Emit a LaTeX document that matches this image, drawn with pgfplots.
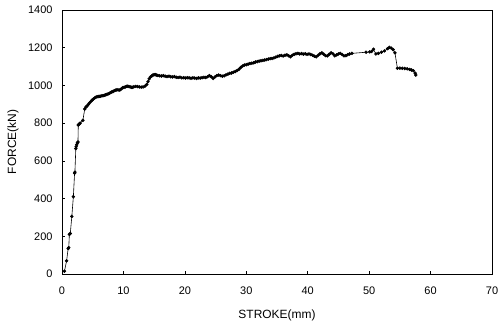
\documentclass[border=0pt]{standalone}
\usepackage{fontspec}
\setmainfont{Liberation Sans}
\usepackage{pgfplots}
\pgfplotsset{compat=1.18}
\begin{document}
\begin{tikzpicture}
\begin{axis}[
  scale only axis,
  width=430bp, height=264bp,
  xmin=0, xmax=70, ymin=0, ymax=1400,
  xtick={0,10,...,70}, ytick={0,200,...,1400},
  tick pos=left, tick align=inside,
  major tick length=3bp,
  axis line style={line width=0.8bp},
  every tick/.style={black, line width=0.6bp},
  /pgf/number format/assume math mode=true,
  /pgf/number format/1000 sep={},
  ticklabel style={font=\fontsize{11}{13}\selectfont},
  xticklabel style={yshift=-9bp},
  yticklabel style={xshift=-6bp},
  label style={font=\fontsize{12}{14}\selectfont},
  xlabel={STROKE(mm)},
  ylabel={FORCE(kN)},
  xlabel style={at={(axis description cs:0.5,0)}, anchor=center, yshift=-41bp},
  ylabel style={at={(axis description cs:0,0.5)}, anchor=center, yshift=49bp},
]
\addplot[black, line width=0.6bp, mark=*, mark size=1.4bp, mark options={fill=black}] coordinates {
(0.4,15) (0.75,70) (1.0,135) (1.1,140) (1.2,210) (1.35,215) (1.6,305) (1.85,410)
(2.05,535) (2.1,540) (2.25,665) (2.3,675) (2.4,685) (2.5,695) (2.6,700) (2.65,790)
(2.8,795) (2.95,800) (3.4,815) (3.7,875) (3.9,885) (4.1,892) (4.3,900) (4.5,908)
(4.7,915) (4.9,922) (5.1,928) (5.3,933) (5.5,937) (5.7,940) (5.9,941) (6.1,942)
(6.3,943) (6.5,945) (6.7,946) (6.9,948) (7.1,950) (7.3,952) (7.5,955) (7.7,958)
(7.9,962) (8.1,965) (8.3,968) (8.5,972) (8.7,975) (8.9,976) (9.1,977) (9.3,975)
(9.5,978) (9.7,983) (9.9,988) (10.1,990) (10.3,992) (10.5,995) (10.7,996) (10.9,994)
(11.1,992) (11.3,990) (11.5,990) (11.7,993) (12.0,995) (12.3,994) (12.6,992) (12.9,991)
(13.2,992) (13.5,996) (13.8,1005) (14.0,1020) (14.2,1035) (14.4,1045) (14.6,1050) (14.8,1055)
(15.0,1057) (15.2,1057) (15.4,1055) (15.6,1053) (15.9,1051) (16.2,1050) (16.5,1052) (16.8,1049)
(17.1,1047) (17.4,1049) (17.7,1046) (18.0,1045) (18.3,1047) (18.6,1043) (18.9,1042) (19.2,1044)
(19.5,1040) (19.8,1041) (20.1,1039) (20.4,1041) (20.7,1040) (21.0,1038) (21.3,1040) (21.6,1039)
(21.9,1037) (22.2,1040) (22.5,1039) (22.8,1041) (23.1,1043) (23.4,1042) (23.7,1046) (24.0,1052)
(24.3,1046) (24.6,1037) (24.9,1045) (25.2,1052) (25.5,1055) (25.8,1052) (26.1,1049) (26.4,1051)
(26.7,1056) (27.0,1060) (27.3,1064) (27.6,1066) (27.9,1070) (28.2,1074) (28.5,1079) (28.8,1085)
(29.1,1095) (29.4,1103) (29.7,1108) (30.0,1110) (30.3,1113) (30.6,1116) (30.9,1118) (31.2,1120)
(31.5,1124) (31.8,1126) (32.1,1129) (32.4,1131) (32.7,1133) (33.0,1135) (33.3,1137) (33.6,1140)
(33.9,1142) (34.2,1143) (34.5,1146) (34.8,1150) (35.1,1154) (35.4,1157) (35.7,1159) (36.0,1156)
(36.3,1160) (36.6,1162) (36.9,1157) (37.2,1152) (37.5,1160) (37.8,1165) (38.1,1168) (38.4,1170)
(38.7,1167) (39.0,1169) (39.3,1166) (39.6,1168) (39.9,1165) (40.2,1167) (40.5,1164) (40.8,1160)
(41.1,1155) (41.4,1152) (41.7,1160) (42.0,1168) (42.3,1173) (42.6,1166) (42.9,1158) (43.2,1157)
(43.5,1165) (43.8,1173) (44.1,1168) (44.4,1157) (44.7,1162) (45.0,1167) (45.3,1170) (45.6,1164)
(45.9,1157) (46.2,1158) (46.5,1163) (46.8,1167) (47.2,1170) (49.5,1176) (50.1,1178) (50.4,1180)
(50.7,1192) (51.1,1167) (51.5,1170) (52.0,1176) (52.5,1183) (53.0,1195) (53.3,1202) (53.6,1198)
(53.9,1190) (54.2,1173) (54.6,1091) (55.0,1092) (55.4,1091) (55.8,1090) (56.2,1088) (56.6,1085)
(56.9,1082) (57.2,1078) (57.5,1065) (57.6,1055)
};
\end{axis}
\pgfresetboundingbox
\path ([xshift=-62bp,yshift=-51bp]current axis.south west) rectangle ([xshift=7bp,yshift=10bp]current axis.north east);
\end{tikzpicture}
\end{document}
